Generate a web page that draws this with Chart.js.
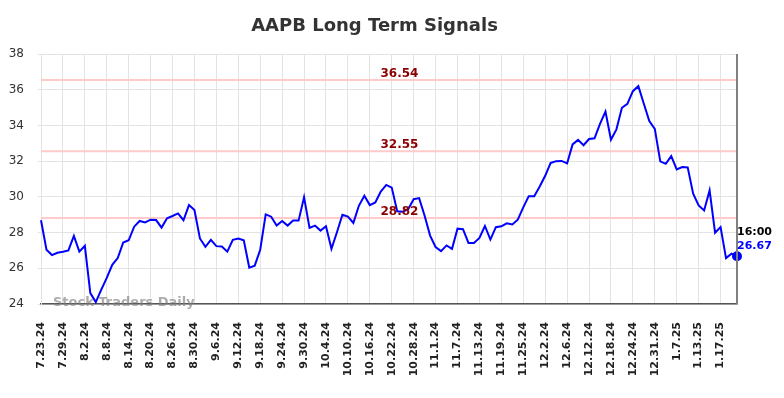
<!DOCTYPE html>
<html><head><meta charset="utf-8">
<script src="https://cdn.jsdelivr.net/npm/chart.js@4.4.1/dist/chart.umd.min.js"></script>
<style>html,body{margin:0;padding:0;background:#fff}#wrap{width:784px;height:398px}</style>
</head><body><div id="wrap"><canvas id="c" width="784" height="398"></canvas></div>
<script>
const chartTitle = 'AAPB Long Term Signals';
const dates = [
'7.23.24','7.24.24','7.25.24','7.26.24','7.29.24','7.30.24','7.31.24',
'8.1.24','8.2.24','8.5.24','8.6.24','8.7.24','8.8.24','8.9.24','8.12.24','8.13.24','8.14.24','8.15.24','8.16.24','8.19.24','8.20.24','8.21.24','8.22.24','8.23.24','8.26.24','8.27.24','8.28.24','8.29.24','8.30.24',
'9.3.24','9.4.24','9.5.24','9.6.24','9.9.24','9.10.24','9.11.24','9.12.24','9.13.24','9.16.24','9.17.24','9.18.24','9.19.24','9.20.24','9.23.24','9.24.24','9.25.24','9.26.24','9.27.24','9.30.24',
'10.1.24','10.2.24','10.3.24','10.4.24','10.7.24','10.8.24','10.9.24','10.10.24','10.11.24','10.14.24','10.15.24','10.16.24','10.17.24','10.18.24','10.21.24','10.22.24','10.23.24','10.24.24','10.25.24','10.28.24','10.29.24','10.30.24','10.31.24',
'11.1.24','11.4.24','11.5.24','11.6.24','11.7.24','11.8.24','11.11.24','11.12.24','11.13.24','11.14.24','11.15.24','11.18.24','11.19.24','11.20.24','11.21.24','11.22.24','11.25.24','11.26.24','11.27.24','11.29.24',
'12.2.24','12.3.24','12.4.24','12.5.24','12.6.24','12.9.24','12.10.24','12.11.24','12.12.24','12.13.24','12.16.24','12.17.24','12.18.24','12.19.24','12.20.24','12.23.24','12.24.24','12.26.24','12.27.24','12.30.24','12.31.24',
'1.2.25','1.3.25','1.6.25','1.7.25','1.8.25','1.9.25','1.10.25','1.13.25','1.14.25','1.15.25','1.16.25','1.17.25','1.21.25','1.22.25','1.23.25'
];
const prices = [
28.69,27.04,26.74,26.87,26.93,27.00,27.81,26.93,27.26,24.61,
24.11,24.80,25.46,26.19,26.57,27.44,27.57,28.33,28.65,28.57,
28.72,28.70,28.28,28.80,28.93,29.07,28.69,29.54,29.26,27.67,
27.20,27.59,27.24,27.22,26.93,27.59,27.67,27.57,26.04,26.15,
27.04,29.02,28.89,28.39,28.65,28.39,28.67,28.67,29.98,28.26,
28.39,28.11,28.35,27.09,28.02,29.00,28.90,28.54,29.50,30.06,
29.54,29.69,30.30,30.67,30.52,29.19,29.17,29.31,29.87,29.93,
28.94,27.83,27.19,26.96,27.28,27.09,28.22,28.19,27.42,27.42,
27.70,28.37,27.61,28.30,28.35,28.52,28.45,28.72,29.41,30.04,
30.04,30.58,31.18,31.90,32.00,32.01,31.87,32.94,33.19,32.89,
33.24,33.28,34.09,34.78,33.20,33.78,34.99,35.21,35.92,36.20,
35.21,34.24,33.81,31.99,31.85,32.28,31.54,31.67,31.65,30.18,
29.52,29.24,30.36,27.99,28.31,26.57,26.82,26.67
];
const levels = [36.54, 32.55, 28.82];
const yMin = 24, yMax = 38, yStep = 2;
const lastTimeLabel = '16:00';
const watermark = 'Stock Traders Daily';
const FONT = '"DejaVu Sans", sans-serif';

const overlay = {
  id: 'overlay',
  beforeDatasetsDraw(chart) {
    const {ctx, chartArea: a, scales: {y}} = chart;
    ctx.save();
    ctx.strokeStyle = '#ffcaca';
    ctx.lineWidth = 2;
    levels.forEach(v => {
      const py = y.getPixelForValue(v);
      ctx.beginPath(); ctx.moveTo(a.left, py); ctx.lineTo(a.right, py); ctx.stroke();
    });
    ctx.restore();
  },
  afterDatasetsDraw(chart) {
    const {ctx, chartArea: a, scales: {x, y}} = chart;
    ctx.save();
    ctx.strokeStyle = '#808080'; ctx.lineWidth = 2;
    ctx.beginPath(); ctx.moveTo(a.right, a.top); ctx.lineTo(a.right, a.bottom); ctx.stroke();
    ctx.font = 'bold 12px ' + FONT;
    ctx.fillStyle = '#8b0000';
    ctx.textAlign = 'center'; ctx.textBaseline = 'alphabetic';
    const lx = a.left + (a.right - a.left) * 0.515;
    levels.forEach(v => {
      ctx.fillText(v.toFixed(2), lx, y.getPixelForValue(v) - 3);
    });
    ctx.font = 'bold 13px ' + FONT;
    ctx.fillStyle = 'rgba(128,128,128,0.65)';
    ctx.textAlign = 'left'; ctx.textBaseline = 'middle';
    ctx.fillText(watermark, a.left + 12, a.bottom - 1);
    const last = prices.length - 1;
    const px = x.getPixelForValue(last), py = y.getPixelForValue(prices[last]);
    ctx.font = 'bold 11px ' + FONT;
    ctx.textAlign = 'left'; ctx.textBaseline = 'middle';
    ctx.fillStyle = '#000';
    ctx.fillText(lastTimeLabel, px, py - 24);
    ctx.fillStyle = '#0000ff';
    ctx.fillText(prices[last].toFixed(2), px, py - 10);
    ctx.font = 'bold 18px ' + FONT;
    ctx.fillStyle = '#333';
    ctx.textAlign = 'center'; ctx.textBaseline = 'middle';
    ctx.fillText(chartTitle, 374.5, 26);
    ctx.restore();
  }
};

new Chart(document.getElementById('c'), {
  type: 'line',
  data: {
    labels: dates,
    datasets: [{
      data: prices,
      borderColor: '#0000ff',
      backgroundColor: '#0000ff',
      borderWidth: 2,
      tension: 0,
      clip: false,
      pointRadius: ctx => ctx.dataIndex === prices.length - 1 ? 4 : 0,
      pointHoverRadius: 0
    }]
  },
  options: {
    responsive: false,
    animation: false,
    devicePixelRatio: 1,
    layout: {padding: {top: 54, right: 47, left: 0, bottom: 0}},
    plugins: {legend: {display: false}, tooltip: {enabled: false}, title: {display: false}},
    scales: {
      x: {
        type: 'category',
        offset: false,
        afterFit: s => { s.height = 94; },
        border: {color: '#555', width: 1.5},
        grid: {
          drawTicks: false,
          color: ctx => (ctx.index % 4 === 0 ? '#e3e3e3' : 'rgba(0,0,0,0)'),
          lineWidth: 1
        },
        ticks: {
          autoSkip: false,
          minRotation: 90,
          maxRotation: 90,
          padding: 18,
          color: '#222',
          font: {family: FONT, size: 11, weight: 'bold'},
          callback: (v, i) => (i % 4 === 0 ? dates[i] : '')
        }
      },
      y: {
        min: yMin, max: yMax,
        afterFit: s => { s.width = 41; },
        border: {color: '#e3e3e3'},
        grid: {color: '#e3e3e3', tickLength: 3, lineWidth: 1},
        ticks: {
          stepSize: yStep,
          padding: 14,
          color: '#333',
          font: {family: FONT, size: 12}
        }
      }
    }
  },
  plugins: [overlay]
});
</script>
</body></html>
